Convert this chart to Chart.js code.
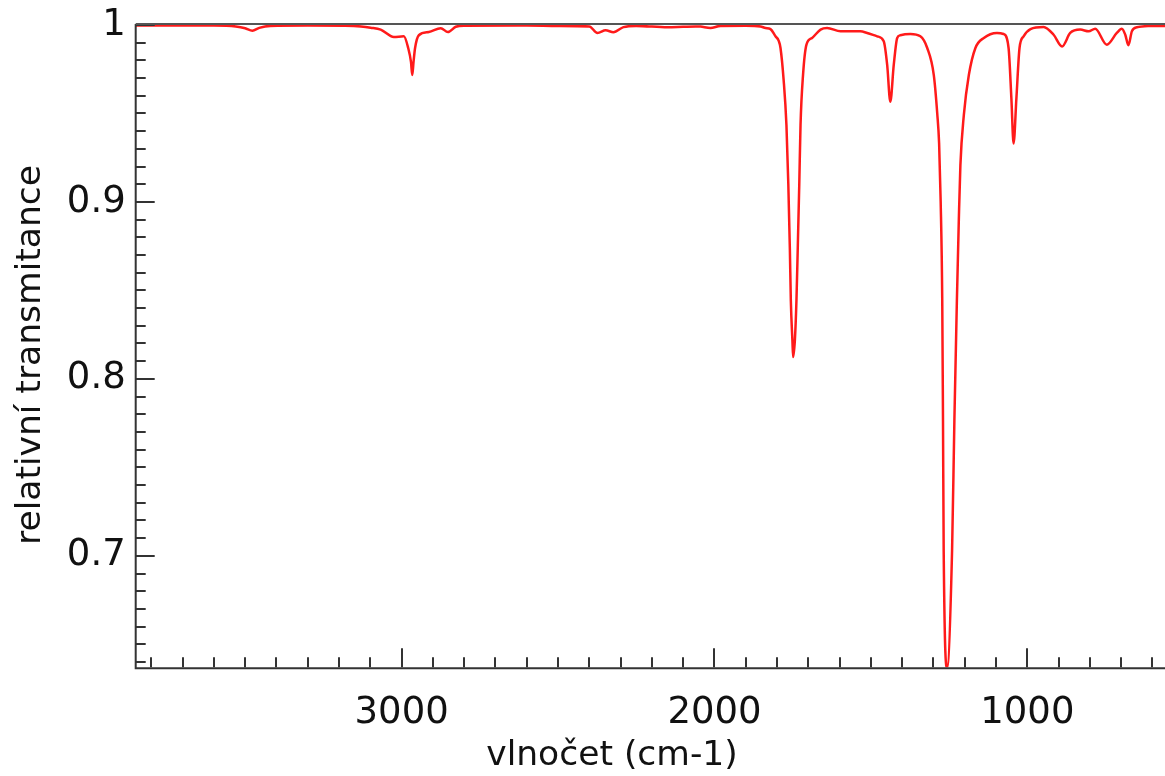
<!DOCTYPE html>
<html>
<head>
<meta charset="utf-8">
<script src="https://cdn.jsdelivr.net/npm/chart.js@4.4.1/dist/chart.umd.min.js"></script>
<style>
  html, body { margin: 0; padding: 0; background: #ffffff; }
  #wrap { width: 1165px; height: 776px; }
</style>
</head>
<body>
<div id="wrap"><canvas id="c" width="1165" height="776"></canvas></div>
<script>
// ---- data ----
const wavenumbers = [3850, 3600, 3530, 3500, 3477, 3455, 3420, 3300, 3180, 3130, 3099, 3067, 3025, 2993, 2979, 2970, 2966, 2962, 2957, 2945, 2913, 2875, 2852, 2827, 2800, 2600, 2500, 2400, 2374, 2348, 2323, 2291, 2250, 2150, 2100, 2060, 2045, 2013, 1981, 1900, 1853, 1837, 1821, 1805, 1795, 1789, 1779, 1770, 1764, 1759, 1756, 1751, 1748.6, 1743, 1738, 1734, 1729, 1725, 1717, 1706, 1688, 1661, 1640, 1597, 1534, 1512, 1480, 1459, 1448, 1438, 1427, 1416, 1406, 1374, 1342, 1320, 1299, 1288, 1282, 1277, 1272, 1269.6, 1267.4, 1256.5, 1240.6, 1233.2, 1225.2, 1219, 1214, 1203, 1187, 1166, 1139, 1097, 1076, 1060, 1051, 1044, 1035, 1025, 1012, 990, 948, 916, 889, 863, 831, 804, 783, 746, 714, 698, 687, 677, 666, 650, 607, 560];
const transmittance = [0.9997, 0.9997, 0.9992, 0.9982, 0.9968, 0.9984, 0.9995, 0.9997, 0.9996, 0.9992, 0.9985, 0.9974, 0.9932, 0.9936, 0.9870, 0.9790, 0.9717, 0.9790, 0.9870, 0.9942, 0.9960, 0.9982, 0.9960, 0.9990, 0.9996, 0.9997, 0.9995, 0.9992, 0.9955, 0.9970, 0.9959, 0.9988, 0.9995, 0.9987, 0.9990, 0.9992, 0.9991, 0.9983, 0.9995, 0.9996, 0.9992, 0.9983, 0.9977, 0.9936, 0.9912, 0.9870, 0.9690, 0.9434, 0.9100, 0.8727, 0.8444, 0.8220, 0.8123, 0.8220, 0.8444, 0.8727, 0.9100, 0.9434, 0.9717, 0.9889, 0.9927, 0.9974, 0.9983, 0.9964, 0.9964, 0.9955, 0.9936, 0.9908, 0.9774, 0.9566, 0.9774, 0.9927, 0.9942, 0.9949, 0.9936, 0.9870, 0.9717, 0.9500, 0.9330, 0.9000, 0.8444, 0.7765, 0.7029, 0.637, 0.7029, 0.7765, 0.8444, 0.8900, 0.9208, 0.9491, 0.9717, 0.9870, 0.9927, 0.9955, 0.9949, 0.9870, 0.9585, 0.9330, 0.9585, 0.9870, 0.9936, 0.9977, 0.9989, 0.9945, 0.9879, 0.9955, 0.9974, 0.9964, 0.9979, 0.9889, 0.9955, 0.9979, 0.9945, 0.9885, 0.9964, 0.9987, 0.9994, 0.9995];
const xTickValues = [3000, 2000, 1000];
const yTickValues = [0.7, 0.8, 0.9, 1];
const xRange = [560, 3850];
const yRange = [0.637, 1];
const xTitle = 'vlnočet (cm-1)';
const yTitle = 'relativní transmitance';

const FONT = 'DejaVu Sans';
const AXIS = '#333333';

const framePlugin = {
  id: 'frame',
  afterDatasetsDraw(chart) {
    const ctx = chart.ctx;
    const a = chart.chartArea;
    const xs = chart.scales.x, ys = chart.scales.y;
    ctx.save();
    ctx.strokeStyle = AXIS;
    ctx.lineWidth = 2;
    ctx.lineCap = 'butt';
    ctx.beginPath();
    for (let i = Math.ceil(yRange[0] * 100); i <= 100; i++) {
      const y = Math.round(ys.getPixelForValue(i / 100));
      const len = (i % 10 === 0) ? 19 : 10;
      ctx.moveTo(a.left, y);
      ctx.lineTo(a.left + len, y);
    }
    for (let w = Math.ceil(xRange[0] / 100) * 100; w <= xRange[1]; w += 100) {
      const x = Math.round(xs.getPixelForValue(w));
      const len = (w % 1000 === 0) ? 19 : 10;
      ctx.moveTo(x, a.bottom);
      ctx.lineTo(x, a.bottom - len);
    }
    ctx.stroke();
    ctx.beginPath();
    ctx.moveTo(a.left, a.top - 1);
    ctx.lineTo(a.left, a.bottom + 1);
    ctx.lineTo(a.right, a.bottom + 1);
    ctx.stroke();
    ctx.strokeStyle = '#555555';
    ctx.beginPath();
    ctx.moveTo(a.left, a.top - 1);
    ctx.lineTo(a.right, a.top - 1);
    ctx.stroke();
    ctx.fillStyle = '#111111';
    ctx.font = '34.5px "' + FONT + '"';
    ctx.textAlign = 'center';
    ctx.textBaseline = 'middle';
    ctx.fillText(xTitle, 612, 756);
    ctx.translate(31, 355);
    ctx.rotate(-Math.PI / 2);
    ctx.fillText(yTitle, 0, 0);
    ctx.restore();
  }
};

function zeroPad(s) {
  s.paddingTop = 0; s.paddingBottom = 0; s.paddingLeft = 0; s.paddingRight = 0;
}

new Chart(document.getElementById('c'), {
  type: 'scatter',
  data: {
    datasets: [{
      data: wavenumbers.map((w, i) => ({ x: w, y: transmittance[i] })),
      showLine: true,
      borderColor: '#ff1a1a',
      borderWidth: 2.5,
      pointRadius: 0,
      pointHoverRadius: 0,
      fill: false,
      cubicInterpolationMode: 'monotone'
    }]
  },
  options: {
    responsive: false,
    animation: false,
    devicePixelRatio: 1,
    layout: { padding: { top: 25, right: 0, bottom: 0, left: 0 } },
    plugins: { legend: { display: false }, tooltip: { enabled: false } },
    scales: {
      x: {
        type: 'linear',
        reverse: true,
        min: xRange[0],
        max: xRange[1],
        grid: { display: false, drawTicks: false },
        border: { display: false },
        afterBuildTicks: s => { s.ticks = xTickValues.map(v => ({ value: v })); },
        afterFit: s => { s.height = 108.7; zeroPad(s); },
        ticks: {
          font: { family: FONT, size: 37 },
          color: '#111111',
          padding: 24,
          maxRotation: 0,
          autoSkip: false,
          callback: v => String(v)
        }
      },
      y: {
        type: 'linear',
        min: yRange[0],
        max: yRange[1],
        grid: { display: false, drawTicks: false },
        border: { display: false },
        afterBuildTicks: s => { s.ticks = yTickValues.map(v => ({ value: v })); },
        afterFit: s => { s.width = 135.7; zeroPad(s); },
        ticks: {
          font: { family: FONT, size: 37 },
          color: '#111111',
          padding: 10,
          autoSkip: false,
          callback: v => String(v)
        }
      }
    }
  },
  plugins: [framePlugin]
});
</script>
</body>
</html>
